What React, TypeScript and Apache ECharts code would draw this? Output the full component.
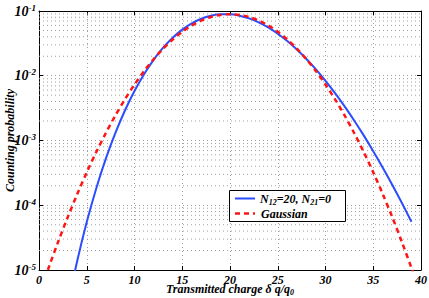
import React, { useEffect, useRef } from "react";
import * as echarts from "echarts";

// Transmitted charge values (x) and counting probabilities (y)
const blueX = [3, 4, 5, 6, 7, 8, 9, 10, 11, 12, 13, 14, 15, 16, 17, 18, 19, 20, 21, 22, 23, 24, 25, 26, 27, 28, 29, 30, 31, 32, 33, 34, 35, 36, 37, 38, 39];
const blueY = [2.75e-6, 1.374e-5, 5.5e-5, 1.83e-4, 5.24e-4, 1.309e-3, 2.91e-3, 5.81e-3, 1.057e-2, 1.762e-2, 2.711e-2, 3.874e-2, 5.165e-2, 6.456e-2, 7.595e-2, 8.439e-2, 8.884e-2, 8.884e-2, 8.461e-2, 7.691e-2, 6.688e-2, 5.573e-2, 4.459e-2, 3.43e-2, 2.541e-2, 1.815e-2, 1.252e-2, 8.34e-3, 5.38e-3, 3.36e-3, 2.04e-3, 1.2e-3, 6.85e-4, 3.81e-4, 2.06e-4, 1.083e-4, 5.56e-5];

const redX = [0, 1, 2, 3, 4, 5, 6, 7, 8, 9, 10, 11, 12, 13, 14, 15, 16, 17, 18, 19, 20, 21, 22, 23, 24, 25, 26, 27, 28, 29, 30, 31, 32, 33, 34, 35, 36, 37, 38, 39, 40];
const redY = [4.05e-6, 1.074e-5, 2.707e-5, 6.5e-5, 1.483e-4, 3.22e-4, 6.65e-4, 1.305e-3, 2.438e-3, 4.33e-3, 7.32e-3, 1.178e-2, 1.801e-2, 2.621e-2, 3.627e-2, 4.775e-2, 5.98e-2, 7.12e-2, 8.07e-2, 8.7e-2, 8.92e-2, 8.7e-2, 8.07e-2, 7.12e-2, 5.98e-2, 4.775e-2, 3.627e-2, 2.621e-2, 1.801e-2, 1.178e-2, 7.32e-3, 4.33e-3, 2.438e-3, 1.305e-3, 6.65e-4, 3.22e-4, 1.483e-4, 6.5e-5, 2.707e-5, 1.074e-5, 4.05e-6];

const xMin = 0;
const xMax = 40;
const xInterval = 5;
const yMin = 1e-5;
const yMax = 1e-1;
const decades = [1e-5, 1e-4, 1e-3, 1e-2];
const minorMultipliers = [2, 3, 4, 5, 6, 7, 8, 9];

const blueName = "N12=20, N21=0";
const redName = "Gaussian";

const FONT = "Liberation Serif";
const GRID_COLOR = "#a0a0a0";
const GRID_DASH = [1, 3];

export default function App() {
  const ref = useRef<HTMLDivElement>(null);
  useEffect(() => {
    if (!ref.current) return;
    const chart = echarts.init(ref.current, null, { renderer: "svg" });
    const minorLevels: number[] = [];
    decades.forEach((d) => minorMultipliers.forEach((m) => minorLevels.push(d * m)));
    const minorSeries = minorLevels.map((v) => ({
      type: "line", z: 1, silent: true, showSymbol: false, clip: true,
      data: [[xMin, v], [xMax, v]],
      lineStyle: { color: GRID_COLOR, type: GRID_DASH, width: 1 },
    }));
    const gridLine = { show: true, lineStyle: { color: GRID_COLOR, type: GRID_DASH, width: 1 } };
    const baseText = { fontFamily: FONT, fontWeight: "bold", fontStyle: "italic", color: "#000" };
    chart.setOption({
      animation: false,
      backgroundColor: "#fff",
      grid: { left: 39, right: 8, top: 11, bottom: 28, containLabel: false, outerBoundsMode: "none" },
      xAxis: [
        {
          type: "value", min: xMin, max: xMax, interval: xInterval, position: "bottom",
          axisLine: { show: true, onZero: false, lineStyle: { color: "#000" } },
          axisTick: { show: true, inside: true, length: 4, lineStyle: { color: "#000" } },
          axisLabel: { ...baseText, fontSize: 12, margin: 4 },
          splitLine: gridLine,
          name: "Transmitted charge δ q/q{s|0}",
          nameLocation: "middle", nameGap: 11, nameMoveOverlap: false,
          nameTextStyle: {
            ...baseText, fontSize: 12,
            rich: { s: { ...baseText, fontSize: 8, padding: [7, 0, 0, 0] } },
          },
        },
        {
          type: "value", min: xMin, max: xMax, interval: xInterval, position: "top",
          axisLine: { show: true, onZero: false, lineStyle: { color: "#000" } },
          axisTick: { show: true, inside: true, length: 4, lineStyle: { color: "#000" } },
          axisLabel: { show: false }, splitLine: { show: false },
        },
      ],
      yAxis: [
        {
          type: "log", logBase: 10, min: yMin, max: yMax, position: "left",
          axisLine: { show: true, onZero: false, lineStyle: { color: "#000" } },
          axisTick: { show: true, inside: true, length: 4, lineStyle: { color: "#000" } },
          axisLabel: {
            margin: 3,
            formatter: (v: number) => `{b|10}{s|${Math.round(Math.log10(v))}}`,
            rich: {
              b: { ...baseText, fontSize: 14 },
              s: { ...baseText, fontSize: 9, padding: [0, 0, 7, 0] },
            },
          },
          splitLine: gridLine,
          name: "Counting probability",
          nameLocation: "middle", nameGap: 23, nameMoveOverlap: false,
          nameTextStyle: { ...baseText, fontSize: 12 },
        },
        {
          type: "log", logBase: 10, min: yMin, max: yMax, position: "right",
          axisLine: { show: true, onZero: false, lineStyle: { color: "#000" } },
          axisTick: { show: true, inside: true, length: 4, lineStyle: { color: "#000" } },
          axisLabel: { show: false }, splitLine: { show: false },
        },
      ],
      series: [
        ...minorSeries,
        {
          type: "line", name: blueName, z: 3,
          data: blueX.map((x, i) => [x, blueY[i]]),
          smooth: 0.3, showSymbol: false, clip: true,
          lineStyle: { color: "#2b4cff", width: 2 },
        },
        {
          type: "line", name: redName, z: 4,
          data: redX.map((x, i) => [x, redY[i]]),
          smooth: 0.3, showSymbol: false, clip: true,
          lineStyle: { color: "#ff1414", width: 2.5, type: [5, 4] },
        },
      ],
      graphic: [
        { type: "rect", shape: { x: 229.5, y: 190.5, width: 116, height: 31 }, style: { fill: "#fff", stroke: "#000", lineWidth: 1 }, z: 10 },
        { type: "line", shape: { x1: 235, y1: 198.5, x2: 255, y2: 198.5 }, style: { stroke: "#2b4cff", lineWidth: 2 }, z: 11 },
        {
          type: "text", x: 260, y: 198.5, z: 11,
          style: {
            text: "{b|N}{s|12}{b|=20, N}{s|21}{b|=0}",
            verticalAlign: "middle",
            rich: {
              b: { ...baseText, fontSize: 12 },
              s: { ...baseText, fontSize: 8, padding: [7, 0, 0, 0] },
            },
          },
        },
        { type: "line", shape: { x1: 235, y1: 213.5, x2: 255, y2: 213.5 }, style: { stroke: "#ff1414", lineWidth: 2.5, lineDash: [5, 4] }, z: 11 },
        {
          type: "text", x: 261, y: 213.5, z: 11,
          style: { text: redName, verticalAlign: "middle", ...baseText, fontSize: 12, fill: "#000" },
        },
      ],
    });
    return () => chart.dispose();
  }, []);
  return <div ref={ref} style={{ position: "fixed", left: 0, top: 0, width: 429, height: 298 }} />;
}
